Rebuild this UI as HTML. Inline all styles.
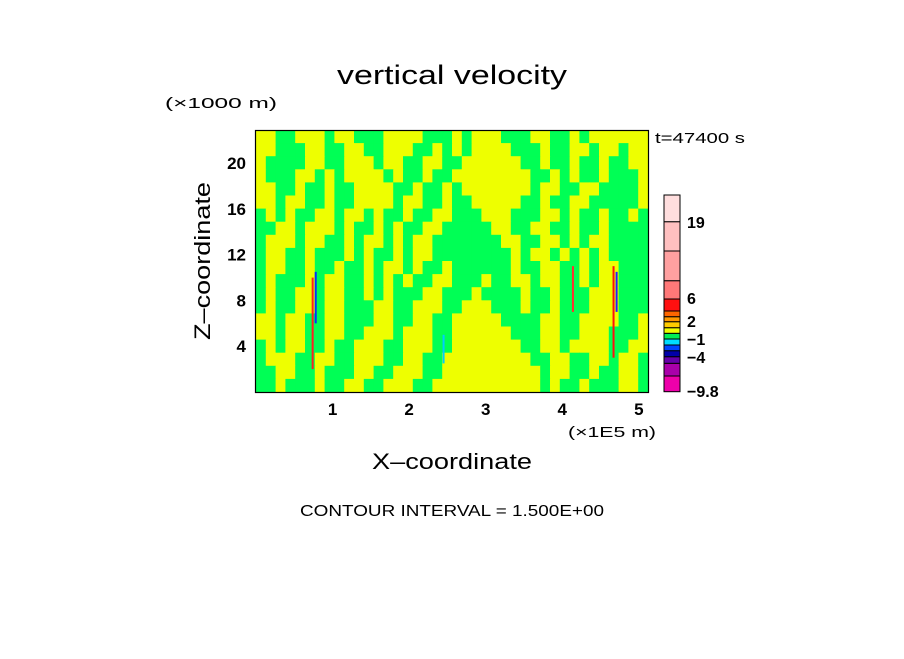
<!DOCTYPE html>
<html><head><meta charset="utf-8"><style>
body{margin:0;background:#fff;}
svg text{font-family:"Liberation Sans",sans-serif;fill:#000;}
</style></head><body>
<svg id="chart" width="904" height="654" xmlns="http://www.w3.org/2000/svg">
<text x="337" y="84" font-size="27" textLength="230" lengthAdjust="spacingAndGlyphs">vertical velocity</text>
<text x="165" y="108" font-size="15" textLength="112" lengthAdjust="spacingAndGlyphs">(×1000 m)</text>
<text x="655" y="143" font-size="15" textLength="90" lengthAdjust="spacingAndGlyphs">t=47400 s</text>
<g id="field"></g>
<g id="streaks"></g>
<rect x="255.5" y="130.5" width="393" height="262" fill="none" stroke="#000" stroke-width="1.2"/>
<g id="xticks"></g>
<g id="yticks"></g>
<text x="568" y="437" font-size="15" textLength="88" lengthAdjust="spacingAndGlyphs">(×1E5 m)</text>
<text x="372" y="469" font-size="22" textLength="160" lengthAdjust="spacingAndGlyphs">X–coordinate</text>
<text transform="translate(210,340) rotate(-90)" font-size="22" textLength="158" lengthAdjust="spacingAndGlyphs">Z–coordinate</text>
<g id="cbar"></g>
<text x="300" y="516" font-size="16" textLength="304" lengthAdjust="spacingAndGlyphs">CONTOUR INTERVAL = 1.500E+00</text>
</svg>
<script>
const xTicks=[1,2,3,4,5];
const yTicks=[4,8,12,16,20];
const xMax=5.12, zMax=22.9;
const fieldRows=[
"YYGGYYYGYYGGGYYYYGGGYGYYYGGGYYGGYGYYYYYY",
"YYGGGYYGGYYGGYYYGGYGYGYYYYGGGYGGYYGYYGYY",
"YGGGGYYGGYYYGYYGGYYGGYYYYYYGGYGGYGGYGGYY",
"YGGGYYGYGYYYYGYGGYGGYYYYYYYYGGYGYGGYGGGY",
"YYGGYGGYGGYYYYGGYGGYGYYYYYYYGYYGGYYGGGGY",
"YYGYYGGYGGYYYYGYYGGYGGYYYYYGGYGGYYGGGGGY",
"GYGYGGYYGYYGYGGYGGYYGGGYYYGGGYYGYGGYGGYG",
"GGYYGYYYGYGGYGYGGYYGGGGGYYGGYYGGYGGYGGGG",
"GYYYGYYGGYGYYGYGYYGGGGGGGYYGGYYGYGYYGGGG",
"GYYGGYGGGYGYGGYGYYGGGGGGGGYGYYGYGYGYGGGG",
"GYYGGYGGYGGYGYYGYGGYGGGGGGYGGYYGGYGYYGGG",
"GYGGGYGYYGGYGYGYGGYYGGGYGGYYGYYGGYGYYGGG",
"GYGGYYGYYGGYGYGGGYYGGGYGGGGYGGYGGGYYYGGG",
"GYGGYYGYYGGGYYGGYYYGGYYYGGGYGGYGGGYYYGGG",
"YYGYYGGYYGGGYYGGYYGGYYYYYGGGGYYGGYYYYGGY",
"YYGYYGGYYGGYYYGYYYGGYYYYYYGGGYYGGYYYGGGY",
"GYGYYGGYGGYYYGGYYYGGYYYYYYYGGYYGYYYYGGYY",
"GYYYGGYYGGYYYGGYYGGYYYYYYYYYGGYYGGYYGYYG",
"GGYYGGYGGGYYGGYYYGGYYYYYYYYYYGYYGGYGGYYG",
"GGYGGGYGGYYGGYYYGGYYYYYYYYYYYGYGGYGGGYYG"
];
const streakX=[0.74,0.78,2.45,4.14,4.67,4.71];
const streakZ0=[2,6,2.5,7,3,7];
const streakZ1=[10,10.5,5,11,11,10.5];
const streakColors=["#ff2020","#0030ff","#00ccff","#ff3030","#ff1010","#2020ff"];
const cbColors=["#ee00aa","#aa00aa","#6600aa","#0000aa","#0044ff","#00ddff","#00ee55","#eeff00","#ffcc00","#ff9900","#ff6600","#ff1010","#ff7878","#ffa0a0","#ffc0c0","#ffdede"];
const cbLabels=["19","6","2","−1","−4","−9.8"];

const NS="http://www.w3.org/2000/svg";
const X0=256,X1=648,Y0=392,Y1=130;
const sx=v=>X0+(v/xMax)*(X1-X0);
const sz=v=>Y0-(v/zMax)*(Y0-Y1);
function mk(t,a,p){const e=document.createElementNS(NS,t);for(const k in a)e.setAttribute(k,a[k]);p.appendChild(e);return e;}
const field=document.getElementById('field');
const nr=fieldRows.length,nc=fieldRows[0].length;
fieldRows.forEach((row,i)=>{
  for(let j=0;j<nc;j++){
    const c=row[j]||'Y';
    const x0=sx(j*xMax/nc),x1=sx((j+1)*xMax/nc);
    const z1=zMax*(1-i/nr),z0=zMax*(1-(i+1)/nr);
    const r=mk('rect',{x:x0,y:sz(z1),width:x1-x0+0.5,height:sz(z0)-sz(z1)+0.5,fill:c==='G'?'#00ff55':'#eeff00'},field);
    
    
  }
});
const st=document.getElementById('streaks');
streakX.forEach((x,i)=>{
  const r=mk('rect',{x:sx(x)-1,y:sz(streakZ1[i]),width:2,height:sz(streakZ0[i])-sz(streakZ1[i]),fill:streakColors[i]},st);
  
  
});
const xt=document.getElementById('xticks');
xTicks.forEach(v=>{const t=mk('text',{x:sx(v),y:415,'text-anchor':'middle','font-size':17,'font-weight':'bold'},xt);t.textContent=v;
  
  });
const yt=document.getElementById('yticks');
yTicks.forEach(v=>{const t=mk('text',{x:246,y:sz(v)+6,'text-anchor':'end','font-size':17,'font-weight':'bold'},yt);t.textContent=v;
  
  });
const cb=document.getElementById('cbar');
const segB=[391.7,376,363.3,356.7,350.7,345,339,333.3,327.7,321.7,316.7,311,299,280.7,251,221.7,195];
cbColors.forEach((c,i)=>{
  const r=mk('rect',{x:664,y:segB[i+1],width:16,height:segB[i]-segB[i+1],fill:c,stroke:'#000','stroke-width':1},cb);
  
  
});
const cbY=[222,298,321,339,357,391];
cbLabels.forEach((l,i)=>{const t=mk('text',{x:687,y:cbY[i]+6,'font-size':16,'font-weight':'bold'},cb);t.textContent=l;
  
  });
</script>
</body></html>
